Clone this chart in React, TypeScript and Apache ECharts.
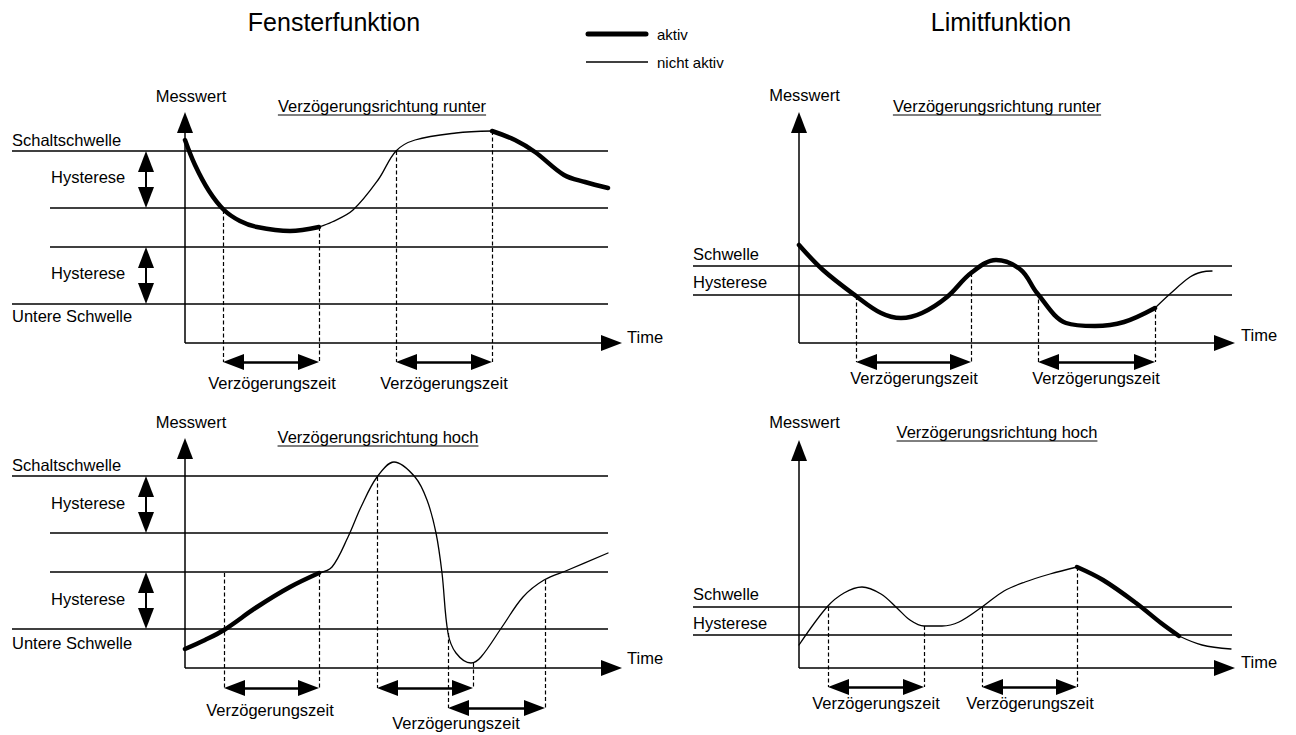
import { useEffect, useRef } from "react";
import * as echarts from "echarts";

const FONT = "'Liberation Sans', Arial, Helvetica, sans-serif";
const FS = 16.5;

// ---------- data (time / Messwert units) ----------
// Fensterfunktion thresholds: Schaltschwelle, Schaltschwelle - Hysterese, Untere + Hysterese, Untere Schwelle
const winThresholds = [192, 135, 96, 39];
const winLineStart = [-173, -135, -135, -173];
const winLineEnd = 423;
const winHystArrowT = -39;

// Top-left: Fensterfunktion, Verzögerungsrichtung runter
const winDownActiveA = [[0, 203], [10, 178], [24, 152], [39, 133], [55, 122], [72, 116], [105, 112], [134, 116]];
const winDownIdle = [[134, 116], [147, 121], [168, 133], [193, 163], [211, 192], [230, 203], [271, 210], [307, 212]];
const winDownActiveB = [[307, 212], [330, 203], [350, 191], [379, 168], [400, 161], [423, 155]];
const winDownGuides = [[38, 133, -19], [134, 116, -19], [211, 192, -19], [307, 212, -19]];
const winDownDelays = [[38, 134, -19], [211, 307, -19]];

// Bottom-left: Fensterfunktion, Verzögerungsrichtung hoch
const winUpActive = [[0, 19], [20, 28], [39, 38], [72, 61], [105, 81], [134, 95]];
const winUpIdle = [[134, 95], [147, 101], [163, 131], [176, 161], [192, 191], [209, 206], [230, 191], [242, 168], [251, 135], [257, 95], [263, 35], [271, 15], [286, 5], [296, 11], [317, 41], [338, 71], [359, 88], [383, 98], [423, 115]];
const winUpGuides = [[39, 95, -20], [134, 95, -20], [192, 191, -20], [263, 35, -40], [288, 5, -20], [360, 88, -40]];
const winUpDelays = [[39, 134, -20], [192, 288, -20], [263, 360, -40]];

// Limitfunktion thresholds: Schwelle, Hysterese
const limDownThresholds = [77, 48];
const limUpThresholds = [61, 33];
const limLineStart = -106;
const limLineEnd = 433;

// Top-right: Limitfunktion, Verzögerungsrichtung runter
const limDownActive = [[0, 98], [24, 73], [57, 47], [82, 30], [102, 25], [123, 30], [148, 46], [172, 70], [197, 83], [222, 73], [238, 50], [267, 20], [296, 17], [325, 21], [356, 35]];
const limDownIdle = [[356, 35], [372, 50], [391, 66], [403, 71], [413, 72]];
const limDownGuides = [[57, 47, -19], [172, 70, -19], [239, 50, -19], [356, 35, -19]];
const limDownDelays = [[57, 172, -19], [239, 356, -19]];

// Bottom-right: Limitfunktion, Verzögerungsrichtung hoch
const limUpIdleA = [[0, 23], [28, 61], [45, 75], [63, 81], [82, 74], [98, 60], [111, 48], [125, 42], [143, 42], [160, 46], [183, 61], [205, 77], [226, 86], [251, 94], [278, 101]];
const limUpActive = [[278, 101], [304, 88], [337, 65], [362, 45], [380, 32]];
const limUpIdleB = [[380, 32], [403, 23], [432, 19]];
const limUpGuides = [[29, 61, -19], [125, 42, -19], [183, 61, -19], [278, 101, -19]];
const limUpDelays = [[29, 125, -19], [183, 278, -19]];

// axis tips [time tip, Messwert tip]
const axisTips = [[437, 231], [436, 231], [437, 230], [436, 228]];

// ---------- layout ----------
const panels = [
  { left: 0, top: 80, width: 648, height: 320, ox: 185, oy: 343 },
  { left: 648, top: 80, width: 648, height: 320, ox: 799, oy: 343 },
  { left: 0, top: 400, width: 648, height: 335, ox: 185, oy: 668 },
  { left: 648, top: 400, width: 648, height: 335, ox: 799, oy: 668 },
];

const HEAD = [16, 21]; // width, length of an arrowhead
const HALF = HEAD[1] / 2;

function shrink(a: number[], b: number[], ha: number, hb: number) {
  const dx = b[0] - a[0], dy = b[1] - a[1];
  const L = Math.hypot(dx, dy);
  const ux = dx / L, uy = dy / L;
  return [[a[0] + ux * ha, a[1] + uy * ha], [b[0] - ux * hb, b[1] - uy * hb]];
}

function linesSeries(gi: number, segs: number[][][], opt: any) {
  return {
    type: "lines",
    coordinateSystem: "cartesian2d",
    xAxisIndex: gi,
    yAxisIndex: gi,
    silent: true,
    clip: false,
    color: "#000",
    symbol: opt.symbol ?? "none",
    symbolSize: [HEAD, HEAD],
    lineStyle: { color: "#000", width: opt.width ?? 1.3, type: opt.type ?? "solid", opacity: 1, curveness: 0 },
    data: segs.map((c) => ({ coords: c })),
    z: opt.z ?? 3,
  };
}

function curve(gi: number, data: number[][], active: boolean) {
  return {
    type: "line",
    xAxisIndex: gi,
    yAxisIndex: gi,
    data,
    smooth: 0.35,
    symbol: "none",
    clip: false,
    silent: true,
    lineStyle: { color: "#000", width: active ? 4.5 : 1.3, cap: "round", join: "round" },
    z: active ? 6 : 5,
  };
}

function text(x: number, y: number, str: string, size = FS, align = "left") {
  return {
    type: "text",
    x,
    y,
    silent: true,
    style: {
      text: str,
      fontFamily: FONT,
      fontSize: size,
      fill: "#000",
      align,
      textAlign: align,
      verticalAlign: "middle",
      textVerticalAlign: "middle",
    },
  };
}

function measure(str: string, size: number) {
  const c = document.createElement("canvas").getContext("2d")!;
  c.font = `${size}px ${FONT}`;
  return c.measureText(str).width;
}

function titleWithUnderline(cx: number, cy: number, str: string) {
  const w = measure(str, FS);
  return [
    text(cx, cy, str, FS, "center"),
    {
      type: "line",
      silent: true,
      shape: { x1: cx - w / 2, y1: cy + 9, x2: cx + w / 2, y2: cy + 9 },
      style: { stroke: "#000", lineWidth: 1 },
    },
  ];
}

function buildOption() {
  const grid = panels.map((p) => ({ left: p.left, top: p.top, width: p.width, height: p.height, containLabel: false }));
  const xAxis = panels.map((p, i) => ({
    type: "value", gridIndex: i, show: false, min: p.left - p.ox, max: p.left + p.width - p.ox,
  }));
  const yAxis = panels.map((p, i) => ({
    type: "value", gridIndex: i, show: false, min: p.oy - (p.top + p.height), max: p.oy - p.top,
  }));

  const series: any[] = [];

  // axes with arrowheads
  axisTips.forEach(([tx, ty], gi) => {
    series.push(
      linesSeries(gi, [[[0, 0], [tx - HALF, 0]], [[0, 0], [0, ty - HALF]]], {
        symbol: ["none", "triangle"], width: 1.5,
      })
    );
  });

  // Fensterfunktion thresholds + hysteresis arrows (panels 0 and 2)
  [0, 2].forEach((gi) => {
    series.push(
      linesSeries(gi, winThresholds.map((v, k) => [[winLineStart[k], v], [winLineEnd, v]]), { width: 1.5 })
    );
    const a = shrink([winHystArrowT, winThresholds[0]], [winHystArrowT, winThresholds[1]], HALF, HALF);
    const b = shrink([winHystArrowT, winThresholds[2]], [winHystArrowT, winThresholds[3]], HALF, HALF);
    series.push(linesSeries(gi, [a, b], { symbol: ["triangle", "triangle"], width: 2 }));
  });

  // Limitfunktion thresholds
  series.push(linesSeries(1, limDownThresholds.map((v) => [[limLineStart, v], [limLineEnd, v]]), { width: 1.5 }));
  series.push(linesSeries(3, limUpThresholds.map((v) => [[limLineStart, v], [limLineEnd, v]]), { width: 1.5 }));

  // guides and delays
  const guides = [winDownGuides, limDownGuides, winUpGuides, limUpGuides];
  const delays = [winDownDelays, limDownDelays, winUpDelays, limUpDelays];
  guides.forEach((g, gi) => {
    series.push(linesSeries(gi, g.map(([t, top, bot]) => [[t, top], [t, bot]]), { type: [4, 2.5], width: 1.2 }));
  });
  delays.forEach((d, gi) => {
    series.push(
      linesSeries(gi, d.map(([a, b, v]) => shrink([a, v], [b, v], HALF, HALF)), {
        symbol: ["triangle", "triangle"], width: 2.5,
      })
    );
  });

  // curves
  series.push(curve(0, winDownActiveA, true), curve(0, winDownIdle, false), curve(0, winDownActiveB, true));
  series.push(curve(2, winUpActive, true), curve(2, winUpIdle, false));
  series.push(curve(1, limDownActive, true), curve(1, limDownIdle, false));
  series.push(curve(3, limUpIdleA, false), curve(3, limUpActive, true), curve(3, limUpIdleB, false));

  // texts
  const g: any[] = [];
  g.push(text(334, 22, "Fensterfunktion", 25, "center"));
  g.push(text(1001, 22, "Limitfunktion", 25, "center"));
  g.push({ type: "line", silent: true, shape: { x1: 588, y1: 34, x2: 646, y2: 34 }, style: { stroke: "#000", lineWidth: 5, lineCap: "round" } });
  g.push({ type: "line", silent: true, shape: { x1: 586, y1: 62, x2: 648, y2: 62 }, style: { stroke: "#000", lineWidth: 1.3 } });
  g.push(text(657, 34, "aktiv", 15));
  g.push(text(657, 62, "nicht aktiv", 15));

  // panel 1
  g.push(text(191, 96, "Messwert", FS, "center"));
  g.push(...titleWithUnderline(382, 106, "Verzögerungsrichtung runter"));
  g.push(text(12, 140, "Schaltschwelle"));
  g.push(text(51, 177, "Hysterese"));
  g.push(text(51, 273, "Hysterese"));
  g.push(text(12, 316, "Untere Schwelle"));
  g.push(text(627, 337, "Time"));
  g.push(text(272, 383, "Verzögerungszeit", FS, "center"));
  g.push(text(444, 383, "Verzögerungszeit", FS, "center"));

  // panel 2
  g.push(text(804.5, 95, "Messwert", FS, "center"));
  g.push(...titleWithUnderline(997, 106, "Verzögerungsrichtung runter"));
  g.push(text(693, 254, "Schwelle"));
  g.push(text(693, 282, "Hysterese"));
  g.push(text(1241, 335, "Time"));
  g.push(text(914, 378, "Verzögerungszeit", FS, "center"));
  g.push(text(1096, 378, "Verzögerungszeit", FS, "center"));

  // panel 3
  g.push(text(191, 422, "Messwert", FS, "center"));
  g.push(...titleWithUnderline(378, 437, "Verzögerungsrichtung hoch"));
  g.push(text(12, 465, "Schaltschwelle"));
  g.push(text(51, 503, "Hysterese"));
  g.push(text(51, 599, "Hysterese"));
  g.push(text(12, 643, "Untere Schwelle"));
  g.push(text(627, 658, "Time"));
  g.push(text(270, 710, "Verzögerungszeit", FS, "center"));
  g.push(text(456, 723, "Verzögerungszeit", FS, "center"));

  // panel 4
  g.push(text(804.5, 422, "Messwert", FS, "center"));
  g.push(...titleWithUnderline(997, 432, "Verzögerungsrichtung hoch"));
  g.push(text(693, 594, "Schwelle"));
  g.push(text(693, 623, "Hysterese"));
  g.push(text(1241, 662, "Time"));
  g.push(text(876, 703, "Verzögerungszeit", FS, "center"));
  g.push(text(1030, 703, "Verzögerungszeit", FS, "center"));

  return {
    animation: false,
    backgroundColor: "#fff",
    textStyle: { fontFamily: FONT },
    grid,
    xAxis,
    yAxis,
    series,
    graphic: { elements: g },
  };
}

export default function App() {
  const ref = useRef<HTMLDivElement>(null);
  useEffect(() => {
    const chart = echarts.init(ref.current!, null, { renderer: "svg" });
    chart.setOption(buildOption() as any);
    return () => chart.dispose();
  }, []);
  return (
    <div
      ref={ref}
      style={{ position: "absolute", left: 0, top: 0, width: 1296, height: 735, background: "#fff" }}
    />
  );
}
